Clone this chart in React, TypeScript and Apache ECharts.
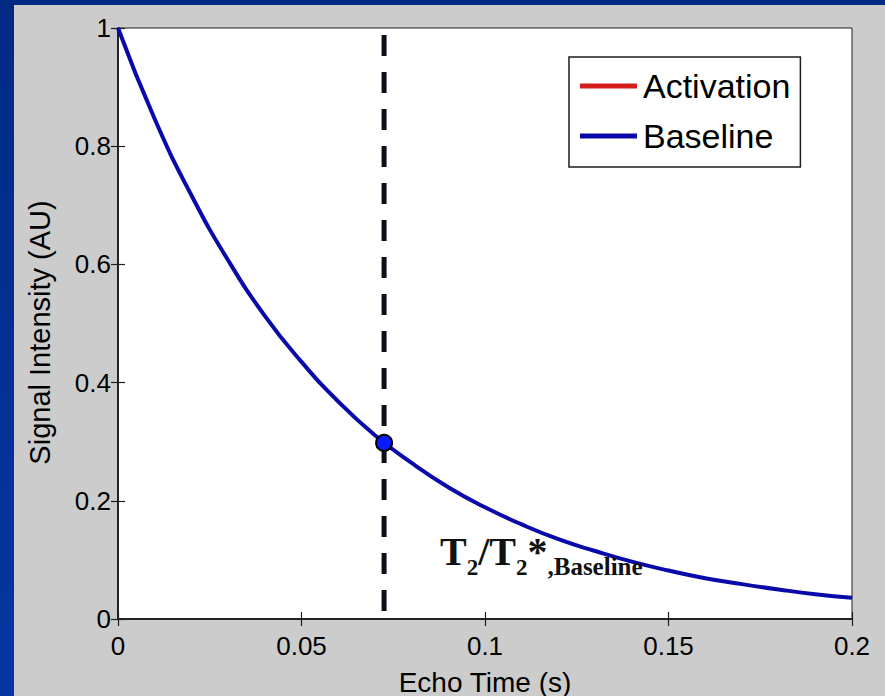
import React, { useEffect, useRef } from "react";
import * as echarts from "echarts";

// Echo time (s) and signal intensity
const echoTime = [0, 0.01, 0.02, 0.03, 0.04, 0.05, 0.06, 0.07, 0.08, 0.09, 0.1, 0.11, 0.12, 0.13, 0.14, 0.15, 0.16, 0.17, 0.18, 0.19, 0.2];
const baselineSignal = [1, 0.846, 0.717, 0.607, 0.513, 0.435, 0.368, 0.311, 0.264, 0.223, 0.189, 0.16, 0.135, 0.115, 0.097, 0.082, 0.069, 0.059, 0.05, 0.042, 0.036];
const activationSignal: number[] = [];
const seriesNames = ["Activation", "Baseline"];

// T2* marker
const markerTime = 0.0725;
const markerSignal = 0.298;

const xLabel = "Echo Time (s)";
const yLabel = "Signal Intensity (AU)";

export default function App() {
  const ref = useRef<HTMLDivElement>(null);
  useEffect(() => {
    if (!ref.current) return;
    const chart = echarts.init(ref.current, null, { renderer: "svg" });
    const font = "'Liberation Sans', Arial, sans-serif";
    const serif = "'Liberation Serif', 'Times New Roman', serif";
    const axisCommon = {
      axisLine: { show: true, lineStyle: { color: "#1e1e1e", width: 1.5 } },
      axisTick: { show: true, inside: true, length: 7, lineStyle: { color: "#1e1e1e", width: 1.2 } },
      splitLine: { show: false },
    };
    chart.setOption({
      animation: false,
      backgroundColor: "#cccccc",
      grid: {
        left: 104,
        top: 23,
        right: 33,
        bottom: 77,
        containLabel: false,
        outerBoundsMode: "none",
        show: true,
        backgroundColor: "#ffffff",
        borderColor: "#1e1e1e",
        borderWidth: 1,
      },
      legend: {
        data: seriesNames,
        orient: "vertical",
        left: 555,
        top: 52,
        icon: "rect",
        itemWidth: 57,
        itemHeight: 5,
        itemGap: 10,
        padding: [9, 10, 11, 11],
        backgroundColor: "#ffffff",
        borderColor: "#1e1e1e",
        borderWidth: 1.5,
        borderRadius: 0,
        textStyle: { fontFamily: font, fontSize: 34, color: "#000", lineHeight: 40, padding: [0, 0, 0, 1] },
      },
      xAxis: [
        {
          type: "value",
          min: 0,
          max: 0.2,
          interval: 0.05,
          position: "bottom",
          name: xLabel,
          nameLocation: "middle",
          nameGap: 49,
          nameTextStyle: { fontFamily: font, fontSize: 28, color: "#000" },
          axisLabel: { fontFamily: font, fontSize: 26, color: "#000", margin: 14 },
          ...axisCommon,
        },
        {
          type: "value",
          min: 0,
          max: 0.2,
          interval: 0.05,
          position: "top",
          axisLabel: { show: false },
          ...axisCommon,
        },
      ],
      yAxis: [
        {
          type: "value",
          min: 0,
          max: 1,
          interval: 0.2,
          position: "left",
          name: yLabel,
          nameLocation: "middle",
          nameRotate: 90,
          nameGap: 64,
          nameTextStyle: { fontFamily: font, fontSize: 29, color: "#000", padding: [0, 18, 0, 0] },
          axisLabel: { fontFamily: font, fontSize: 26, color: "#000", margin: 7 },
          ...axisCommon,
        },
        {
          type: "value",
          min: 0,
          max: 1,
          interval: 0.2,
          position: "right",
          axisLabel: { show: false },
          ...axisCommon,
        },
      ],
      series: [
        {
          name: "Activation",
          type: "line",
          data: activationSignal.map((v, i) => [echoTime[i], v]),
          color: "#d41c1c",
          lineStyle: { width: 4 },
          showSymbol: false,
        },
        {
          name: "T2 line",
          type: "line",
          data: [
            [markerTime, 1],
            [markerTime, 0],
          ],
          showSymbol: false,
          lineStyle: { color: "#0a0f1a", width: 5, type: [21, 16], dashOffset: 30, cap: "butt" },
          z: 2,
        },
        {
          name: "Baseline",
          type: "line",
          data: echoTime.map((t, i) => [t, baselineSignal[i]]),
          color: "#0a0aaa",
          lineStyle: { width: 4 },
          showSymbol: false,
          smooth: true,
          z: 3,
        },
        {
          name: "T2 marker",
          type: "scatter",
          data: [[markerTime, markerSignal]],
          symbol: "circle",
          symbolSize: 16,
          itemStyle: { color: "#0a1cff", borderColor: "#000", borderWidth: 2, opacity: 1 },
          z: 5,
        },
      ],
      graphic: [
        {
          type: "text",
          z: 10,
          style: {
            x: 426,
            y: 574,
            verticalAlign: "bottom",
            align: "left",
            text: "{m|T}{s|2}{m|/T}{s|2}{m|*}{b|,Baseline}",
            rich: {
              m: {
                fontFamily: serif,
                fontWeight: "bold",
                fontSize: 40,
                lineHeight: 40,
                padding: [0, 0, 8, 0],
                verticalAlign: "bottom",
                fill: "#111",
              },
              s: {
                fontFamily: serif,
                fontWeight: "bold",
                fontSize: 23,
                lineHeight: 22,
                verticalAlign: "bottom",
                fill: "#111",
              },
              b: {
                fontFamily: serif,
                fontWeight: "bold",
                fontSize: 25,
                lineHeight: 22,
                verticalAlign: "bottom",
                fill: "#111",
              },
            },
          },
        },
      ],
    });
    return () => chart.dispose();
  }, []);
  return (
    <div
      style={{
        position: "fixed",
        left: 0,
        top: 0,
        width: 885,
        height: 696,
        background: "linear-gradient(180deg, #002a84 0%, #0736a3 100%)",
      }}
    >
      <div ref={ref} style={{ position: "absolute", left: 14, top: 5, width: 871, height: 691 }} />
    </div>
  );
}
